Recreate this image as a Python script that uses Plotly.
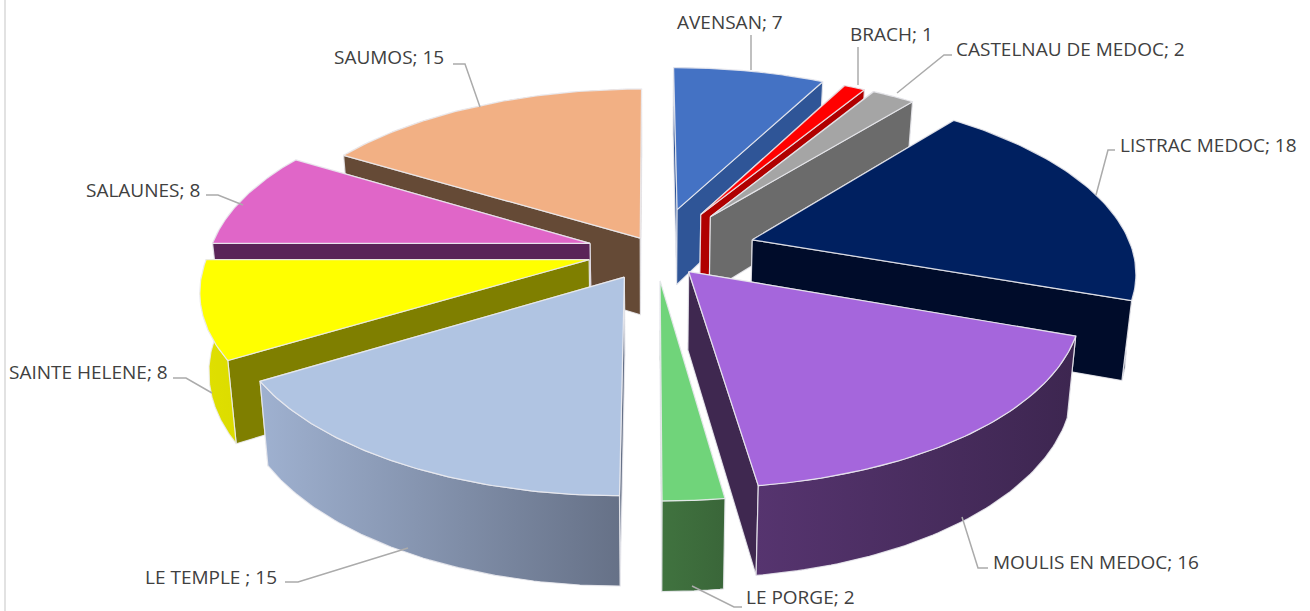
import numpy as np
import plotly.graph_objects as go

categories = ["AVENSAN", "BRACH", "CASTELNAU DE MEDOC", "LISTRAC MEDOC", "MOULIS EN MEDOC",
              "LE PORGE", "LE TEMPLE ", "SAINTE HELENE", "SALAUNES", "SAUMOS"]
values = [7, 1, 2, 18, 16, 2, 15, 8, 8, 15]

top_colors = ["#4472C4", "#FF0000", "#A5A5A5", "#002060", "#A566DC",
              "#70D47A", "#B0C4E2", "#FFFF00", "#E066C8", "#F2B084"]
rim_colors = [("#2F5597", "#2F5597"), ("#C00000", "#C00000"), ("#6B6B6B", "#6B6B6B"), ("#000C2A", "#000C2A"),
              ("#56346F", "#3D2650"), ("#40733F", "#3A6639"), ("#9FB1D0", "#667187"),
              ("#E0E000", "#DCDC00"), ("#5A2A58", "#5A2A58"), ("#654A36", "#654A36")]
face_colors = ["#2F5597", "#B00000", "#6B6B6B", "#000C2A", "#3F2850",
               "#40733F", "#667187", "#7F7F00", "#5A2458", "#654A36"]
# explosion of each slice on the pie's ground plane (x, y, in radii)
explode = [(.074, .21), (.138, .18), (.164, .167), (.272, .03), (.10, -.15),
           (.026, -.20), (-.066, -.18), (-.159, -.083), (-.159, .01), (-.026, .04)]

# label placement: text left edge, text centre y, leader polyline
label_pos = [(675, 22), (848, 34), (954, 49), (1118, 145), (991, 562),
             (744, 597), (143, 577), (7, 372), (84, 190), (332, 57)]
leaders = [
    [(751, 35), (751, 70)], [(858, 47), (858, 85)], [(952, 55), (944, 55), (897, 93)],
    [(1115, 150), (1108, 150), (1096, 195)], [(988, 568), (978, 568), (962, 517)],
    [(742, 607), (734, 607), (692, 586)], [(285, 582), (298, 582), (408, 548)],
    [(173, 378), (186, 378), (212, 393)], [(206, 195), (218, 195), (243, 205)],
    [(453, 64), (465, 64), (480, 107)],
]

CX, CY, S, TILT, D, THICK, CONV = 650, 245, 378, .46, 6.5, 77, .02


def project(X, Y, low=False):
    X, Y = np.asarray(X, float), np.asarray(Y, float)
    d = 1 + Y / D
    k = 1 - CONV if low else 1
    return CX + S * X * k / d, CY - S * TILT * Y / d + (THICK / d ** .8 if low else 0)


fig = go.Figure()


def poly(x, y, fill, border="rgba(235,235,240,.85)", grad=None):
    tr = dict(x=np.round(x, 1).tolist(), y=np.round(y, 1).tolist(), mode="lines", fill="toself",
              fillcolor=fill, line=dict(color=border, width=1.2), hoverinfo="skip", showlegend=False)
    if grad and grad[0] != grad[1]:
        tr["fillgradient"] = dict(type="horizontal", colorscale=[[0, grad[0]], [1, grad[1]]])
    fig.add_trace(go.Scatter(**tr))


edges = np.cumsum([0] + values) / sum(values) * 2 * np.pi
order = sorted(range(len(values)), key=lambda i: -np.cos((edges[i] + edges[i + 1]) / 2))
for i in order:
    a = np.linspace(edges[i], edges[i + 1], 70)
    ex, ey = explode[i]
    X, Y = ex + np.sin(a), ey + np.cos(a)
    walls = []
    for k in (0, -1):
        xs, ys = [ex, X[k]], [ey, Y[k]]
        tx, ty = project(xs, ys)
        bx, by = project(xs, ys, True)
        walls.append((np.mean(ys), np.r_[tx, bx[::-1], tx[0]], np.r_[ty, by[::-1], ty[0]], face_colors[i], None))
    tx, ty = project(X, Y)
    bx, by = project(X, Y, True)
    walls.append((np.mean(Y), np.r_[tx, bx[::-1], tx[0]], np.r_[ty, by[::-1], ty[0]], rim_colors[i][0], rim_colors[i]))
    for w in sorted(walls, key=lambda w: -w[0]):
        poly(w[1], w[2], w[3], grad=w[4])
    ox, oy = project(np.r_[ex, X, ex], np.r_[ey, Y, ey])
    poly(ox, oy, top_colors[i])

for pts in leaders:
    fig.add_trace(go.Scatter(x=[p[0] for p in pts], y=[p[1] for p in pts], mode="lines",
                             line=dict(color="#ABABAB", width=1.5), hoverinfo="skip", showlegend=False))

for c, v, (x, y) in zip(categories, values, label_pos):
    fig.add_annotation(x=x, y=y, text=f"{c}; {v}", showarrow=False, xanchor="left", yanchor="middle",
                       font=dict(family="Open Sans", size=19, color="#404040"))

fig.add_shape(type="line", x0=5, x1=5, y0=0, y1=611, line=dict(color="#D9D9D9", width=1.5))
fig.update_xaxes(range=[0, 1310], visible=False, fixedrange=True)
fig.update_yaxes(range=[611, 0], visible=False, fixedrange=True)
fig.update_layout(width=1310, height=611, margin=dict(l=0, r=0, t=0, b=0),
                  paper_bgcolor="white", plot_bgcolor="white", showlegend=False)
fig.write_html("out.html", config=dict(displayModeBar=False),
               post_script="document.body.style.margin='0';document.documentElement.style.overflow='hidden';")
